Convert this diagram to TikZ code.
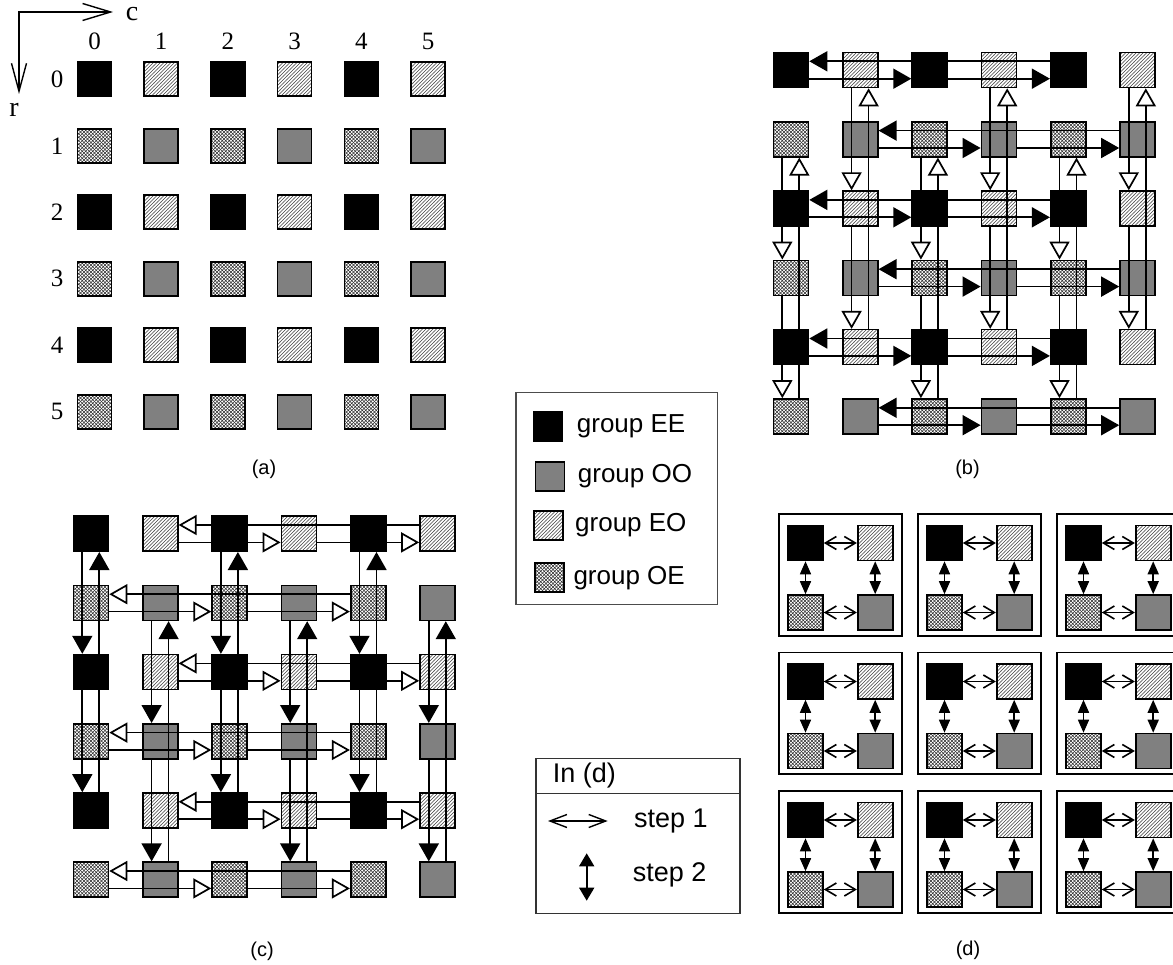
\documentclass[tikz,border=0pt]{standalone}
\usepackage{fontspec}
\setmainfont{Liberation Serif}
\setsansfont{Liberation Sans}
\usetikzlibrary{arrows.meta,patterns}

\pgfdeclarepatternformonly{eohatch}{\pgfpoint{-1pt}{-1pt}}{\pgfpoint{4.5pt}{4.5pt}}{\pgfpoint{3.5pt}{3.5pt}}{%
  \pgfsetlinewidth{0.5pt}%
  \pgfpathmoveto{\pgfpoint{-0.1pt}{-0.1pt}}%
  \pgfpathlineto{\pgfpoint{3.6pt}{3.6pt}}%
  \pgfusepath{stroke}}
\pgfdeclarepatternformonly{oehatch}{\pgfpoint{-1pt}{-1pt}}{\pgfpoint{4.5pt}{4.5pt}}{\pgfpoint{3.5pt}{3.5pt}}{%
  \pgfsetlinewidth{0.5pt}%
  \pgfpathmoveto{\pgfpoint{-0.1pt}{-0.1pt}}%
  \pgfpathlineto{\pgfpoint{3.6pt}{3.6pt}}%
  \pgfpathmoveto{\pgfpoint{-0.1pt}{3.6pt}}%
  \pgfpathlineto{\pgfpoint{3.6pt}{-0.1pt}}%
  \pgfusepath{stroke}}

\tikzset{
  sqbase/.style={draw=black, line width=1.6pt, inner sep=0pt, minimum size=35pt},
  ee/.style={sqbase, fill=black},
  oo/.style={sqbase, fill=gray},
  eo/.style={sqbase, pattern=eohatch, pattern color=black!75},
  oe/.style={sqbase, pattern=oehatch, pattern color=black!80},
  fline/.style={line width=1.7pt, -{Triangle[length=18pt,width=20pt]}},
  oline/.style={line width=1.7pt, -{Triangle[open,length=18pt,width=20pt,fill=white]}},
  dh/.style={line width=1.6pt, {Straight Barb[length=11pt,width=13pt]}-{Straight Barb[length=11pt,width=13pt]}},
  dv/.style={line width=1.6pt, {Triangle[length=13pt,width=11pt]}-{Triangle[length=13pt,width=11pt]}},
  dbox/.style={draw=black, line width=1.9pt, inner sep=0pt, minimum width=122.4pt, minimum height=121.7pt},
  serifnum/.style={font=\fontsize{25}{28}\selectfont, inner sep=0pt},
  axlab/.style={font=\fontsize{28}{30}\selectfont, inner sep=0pt},
  captxt/.style={font=\sffamily\fontsize{20}{24}\selectfont, inner sep=0pt},
  legtxt/.style={font=\sffamily\fontsize{26}{30}\selectfont, inner sep=0pt, anchor=west},
  legtxtb/.style={font=\sffamily\fontsize{27}{31}\selectfont, inner sep=0pt, anchor=west},
}

\begin{document}
\begin{tikzpicture}[x=1pt,y=-1pt]
\useasboundingbox (0,0) rectangle (1173,965);

% ---------------- panel (a) ----------------
\coordinate (ax0) at (19,12);
\coordinate (axc) at (113,12);
\coordinate (axr) at (19,94);
\draw[line width=1.4pt, {Straight Barb[length=28pt,width=17pt]}-{Straight Barb[length=28pt,width=15pt]}] (axc) -- (ax0) -- (axr);
\node[axlab] (lc) at (132,14) {c};
\node[axlab] (lr) at (14,109.7) {r};
\foreach \i in {0,...,5}{
  \pgfmathsetmacro\xx{94.5+66.7*\i}
  \pgfmathsetmacro\yy{79.3+66.5*\i}
  \node[serifnum] (acl\i) at (\xx,41.7) {\i};
  \node[serifnum] (arl\i) at (57,\yy) {\i};
}
\foreach \j in {0,...,5}{
  \foreach \i in {0,...,5}{
    \pgfmathsetmacro\xx{94.5+66.7*\i}
    \pgfmathsetmacro\yy{79.3+66.5*\j}
    \pgfmathtruncatemacro\k{mod(\j,2)*2+mod(\i,2)}
    \ifcase\k \def\st{ee}\or \def\st{eo}\or \def\st{oe}\or \def\st{oo}\fi
    \node[\st, minimum size=34pt] (a\j\i) at (\xx,\yy) {};
  }
}
\node[captxt] (capa) at (264,469) {(a)};

% ---------------- panel (b) ----------------
\foreach \j in {0,...,5}{
  \foreach \i in {0,...,5}{
    \pgfmathsetmacro\xx{791+69.3*\i}
    \pgfmathsetmacro\yy{70+69.3*\j}
    \pgfmathtruncatemacro\k{mod(\j,2)*2+mod(\i,2)}
    \ifcase\k \def\st{ee}\or \def\st{eo}\or \def\st{oe}\or \def\st{oo}\fi
    \node[\st] (b\j\i) at (\xx,\yy) {};
  }
}
\foreach \j/\p/\q/\r in {0/0/2/4,1/1/3/5,2/0/2/4,3/1/3/5,4/0/2/4,5/1/3/5}{
  \draw[fline] ([yshift=8.7pt]b\j\r.west) -- ([yshift=8.7pt]b\j\p.east);
  \draw[fline] ([yshift=-8.7pt]b\j\p.east) -- ([yshift=-8.7pt]b\j\q.west);
  \draw[fline] ([yshift=-8.7pt]b\j\q.east) -- ([yshift=-8.7pt]b\j\r.west);
}
\foreach \i/\p/\q/\r in {0/1/3/5,1/0/2/4,2/1/3/5,3/0/2/4,4/1/3/5,5/0/2/4}{
  \draw[oline] ([xshift=8.3pt]b\r\i.north) -- ([xshift=8.3pt]b\p\i.south);
  \draw[oline] ([xshift=-8.7pt]b\p\i.south) -- ([xshift=-8.7pt]b\q\i.north);
  \draw[oline] ([xshift=-8.7pt]b\q\i.south) -- ([xshift=-8.7pt]b\r\i.north);
}
\node[captxt] (capb) at (967.5,469) {(b)};

% ---------------- panel (c) ----------------
\foreach \j in {0,...,5}{
  \foreach \i in {0,...,5}{
    \pgfmathsetmacro\xx{91+69.3*\i}
    \pgfmathsetmacro\yy{533.7+69.2*\j}
    \pgfmathtruncatemacro\k{mod(\j,2)*2+mod(\i,2)}
    \ifcase\k \def\st{ee}\or \def\st{eo}\or \def\st{oe}\or \def\st{oo}\fi
    \node[\st] (c\j\i) at (\xx,\yy) {};
  }
}
\foreach \j/\p/\q/\r in {0/1/3/5,1/0/2/4,2/1/3/5,3/0/2/4,4/1/3/5,5/0/2/4}{
  \draw[oline] ([yshift=8.7pt]c\j\r.west) -- ([yshift=8.7pt]c\j\p.east);
  \draw[oline] ([yshift=-8.7pt]c\j\p.east) -- ([yshift=-8.7pt]c\j\q.west);
  \draw[oline] ([yshift=-8.7pt]c\j\q.east) -- ([yshift=-8.7pt]c\j\r.west);
}
\foreach \i/\p/\q/\r in {0/0/2/4,1/1/3/5,2/0/2/4,3/1/3/5,4/0/2/4,5/1/3/5}{
  \draw[fline] ([xshift=8.3pt]c\r\i.north) -- ([xshift=8.3pt]c\p\i.south);
  \draw[fline] ([xshift=-8.7pt]c\p\i.south) -- ([xshift=-8.7pt]c\q\i.north);
  \draw[fline] ([xshift=-8.7pt]c\q\i.south) -- ([xshift=-8.7pt]c\r\i.north);
}
\node[captxt] (capc) at (262,951) {(c)};

% ---------------- panel (d) ----------------
\foreach \p in {0,1,2}{
  \foreach \q in {0,1,2}{
    \pgfmathsetmacro\L{779.3+139*\q}
    \pgfmathsetmacro\T{514+138.5*\p}
    \node[dbox] (dbox\p\q) at (\L+61.2,\T+60.85) {};
    \node[ee] (dee\p\q) at (\L+26.2,\T+29) {};
    \node[eo] (deo\p\q) at (\L+95.9,\T+29) {};
    \node[oe] (doe\p\q) at (\L+26.2,\T+98.5) {};
    \node[oo] (doo\p\q) at (\L+95.9,\T+98.5) {};
    \draw[dh] (dee\p\q.east) -- (deo\p\q.west);
    \draw[dh] (doe\p\q.east) -- (doo\p\q.west);
    \draw[dv] (dee\p\q.south) -- (doe\p\q.north);
    \draw[dv] (deo\p\q.south) -- (doo\p\q.north);
  }
}
\node[captxt] (capd) at (968,950.5) {(d)};

% ---------------- legend 1 ----------------
\node[draw=black!70, line width=1.2pt, inner sep=0pt, minimum width=201.3pt, minimum height=212pt] (leg1) at (616.65,498.3) {};
\node[ee, minimum size=29pt] (lee) at (548,426.7) {};
\node[oo, minimum size=29pt] (loo) at (550,476.3) {};
\node[eo, minimum size=29pt] (leo) at (548.7,525.5) {};
\node[oe, minimum size=29pt] (loe) at (549.7,577.7) {};
\node[legtxt] (tee) at (576.7,426.7) {group EE};
\node[legtxt] (too) at (577.7,476.3) {group OO};
\node[legtxt] (teo) at (575,525.5) {group EO};
\node[legtxt] (toe) at (573.3,577.7) {group OE};

% ---------------- legend 2 ----------------
\node[draw=black!80, line width=1.2pt, inner sep=0pt, minimum width=204pt, minimum height=155pt] (leg2) at (638,835.8) {};
\coordinate (divl) at (536,793.3);
\coordinate (divr) at (740,793.3);
\draw[black!80, line width=1.2pt] (divl) -- (divr);
\node[legtxtb] (tin) at (552.7,775.5) {In (d)};
\coordinate (s1a) at (548,821);
\coordinate (s1b) at (607.7,821);
\draw[line width=1.4pt, {Straight Barb[length=17pt,width=13pt]}-{Straight Barb[length=17pt,width=13pt]}] (s1a) -- (s1b);
\node[legtxtb] (ts1) at (634,821.5) {step 1};
\coordinate (s2a) at (586.7,853.3);
\coordinate (s2b) at (586.7,900.7);
\draw[line width=1.6pt, {Triangle[length=13pt,width=15pt]}-{Triangle[length=13pt,width=15pt]}] (s2a) -- (s2b);
\node[legtxtb] (ts2) at (632.7,874.5) {step 2};

\end{tikzpicture}
\end{document}
